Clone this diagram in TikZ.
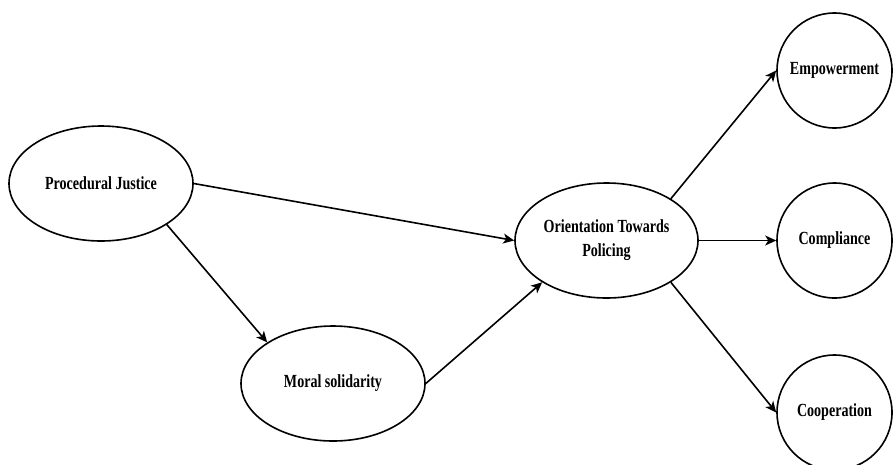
\documentclass[tikz,border=0pt]{standalone}
\usepackage{fontspec}
\setmainfont{Liberation Serif}[FakeStretch=0.76]
\usetikzlibrary{shapes.geometric,arrows.meta}
\begin{document}
\begin{tikzpicture}[x=1pt,y=-1pt,
  lbl/.style={font=\bfseries\fontsize{18.5}{20}\selectfont, align=center, inner sep=0pt},
  oval/.style={ellipse, draw, line width=1.6pt, minimum width=184pt, minimum height=115pt, lbl},
  circ/.style={circle, draw, line width=1.6pt, minimum size=115pt, lbl},
  arr/.style={line width=1.6pt, -{Stealth[length=11pt,width=10pt,inset=3pt]}}]
\useasboundingbox (0,0) rectangle (893,464);
\node[oval] (pj) at (101,183.5) {Procedural Justice};
\node[oval] (ms) at (333,383.5) {Moral solidarity};
\node[oval, minimum width=183pt] (otp) at (606.5,240.5) {Orientation Towards\\[4pt]Policing};
\node[circ] (emp) at (834.5,70.5) {Empowerment};
\node[circ] (com) at (834.5,240.5) {Compliance};
\node[circ] (coo) at (834.5,412.5) {Cooperation};
\draw[arr] (pj.east) -- (otp.west);
\draw[arr] (pj.-32) -- (ms.148);
\draw[arr] (ms.east) -- (otp.-147);
\draw[arr] (otp.33) -- (emp.west);
\draw[arr] (otp.east) -- (com.west);
\draw[arr] (otp.-33) -- (coo.west);
\end{tikzpicture}
\end{document}
